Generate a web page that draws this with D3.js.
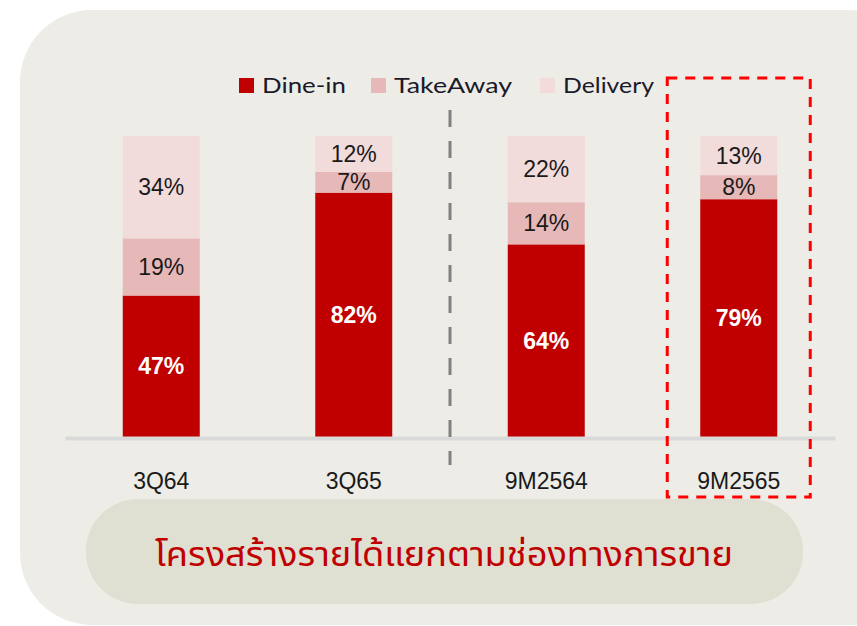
<!DOCTYPE html>
<html><head><meta charset="utf-8">
<script src="https://cdn.jsdelivr.net/npm/d3@7"></script>
<style>body{margin:0;background:#fff;} svg{display:block;}</style>
</head><body>
<svg id="chart" width="857" height="626"></svg>
<script>
const categories = ["3Q64", "3Q65", "9M2564", "9M2565"];
const seriesNames = ["Dine-in", "TakeAway", "Delivery"];
const dineIn = [47, 82, 64, 79];
const takeAway = [19, 7, 14, 8];
const delivery = [34, 12, 22, 13];
const colors = ["#c00000", "#e6b8b7", "#f2dcdb"];
const title = "โครงสร้างรายได้แยกตามช่องทางการขาย";
const highlighted = "9M2565";

const svg = d3.select("#chart");
// panel
svg.append("rect").attr("x", 20).attr("y", 10).attr("width", 900).attr("height", 615)
  .attr("rx", 72).attr("fill", "#edece6");
// title pill
svg.append("rect").attr("x", 86).attr("y", 499).attr("width", 717).attr("height", 105)
  .attr("rx", 52).attr("fill", "#dfdfd2");
svg.append("text").attr("x", 444).attr("y", 566).attr("text-anchor", "middle")
  .attr("fill", "#c00000").attr("font-size", 34).attr("font-family", "'Noto Sans Thai','Noto Sans',sans-serif")
  .attr("textLength", 578).attr("lengthAdjust", "spacingAndGlyphs").text(title);

const rows = categories.map((c, i) => ({cat: c, "Dine-in": dineIn[i], "TakeAway": takeAway[i], "Delivery": delivery[i]}));
const stack = d3.stack().keys(seriesNames).offset(d3.stackOffsetExpand);
const layers = stack(rows);

const x = d3.scaleBand().domain(categories).range([65, 835]).paddingInner(0.6).paddingOuter(0.3);
const y = d3.scaleLinear().domain([0, 1]).range([437, 136]);
const color = d3.scaleOrdinal().domain(seriesNames).range(colors);

const g = svg.append("g");
layers.forEach((layer, li) => {
  g.selectAll(null).data(layer).enter().append("rect")
    .attr("x", d => x(d.data.cat)).attr("width", x.bandwidth())
    .attr("y", d => y(d[1])).attr("height", d => y(d[0]) - y(d[1]))
    .attr("fill", color(layer.key));
  g.selectAll(null).data(layer).enter().append("text")
    .attr("x", d => x(d.data.cat) + x.bandwidth() / 2)
    .attr("y", d => (y(d[0]) + y(d[1])) / 2 + 8)
    .attr("text-anchor", "middle")
    .attr("font-family", "'Liberation Sans', Arial, sans-serif")
    .attr("font-size", 23)
    .attr("font-weight", li === 0 ? 600 : "normal")
    .attr("fill", li === 0 ? "#ffffff" : "#1a1a1a")
    .text(d => d.data[layer.key] + "%");
});

// axis
const axis = svg.append("g").attr("transform", "translate(0,438)")
  .call(d3.axisBottom(x).tickSize(0).tickSizeOuter(0).tickPadding(35));
axis.select(".domain").attr("stroke", "#d9d9d9").attr("stroke-width", 4);
axis.selectAll("text").attr("font-family", "'Liberation Sans', Arial, sans-serif")
  .attr("font-size", 23).attr("fill", "#1a1a1a");

// divider
const divX = (x("3Q65") + x.bandwidth() + x("9M2564")) / 2;
svg.append("line").attr("x1", divX).attr("x2", divX).attr("y1", 110).attr("y2", 465)
  .attr("stroke", "#808080").attr("stroke-width", 3).attr("stroke-dasharray", "17,14");

// highlight box
const hx = x(highlighted);
svg.append("rect").attr("x", hx - 33).attr("y", 78).attr("width", x.bandwidth() + 66).attr("height", 419)
  .attr("fill", "none").attr("stroke", "#ff0000").attr("stroke-width", 3).attr("stroke-dasharray", "10,8");

// legend
const legendX = [239, 371, 540];
const legendW = [84, 118, 91];
const lg = svg.append("g");
seriesNames.forEach((s, i) => {
  lg.append("rect").attr("x", legendX[i]).attr("y", 78).attr("width", 15).attr("height", 15).attr("fill", colors[i]);
  lg.append("text").attr("x", legendX[i] + 23).attr("y", 93)
    .attr("font-family", "Lato, 'Open Sans', sans-serif").attr("font-size", 22).attr("fill", "#1a1a2a")
    .attr("textLength", legendW[i]).attr("lengthAdjust", "spacingAndGlyphs").text(s);
});
</script>
</body></html>
